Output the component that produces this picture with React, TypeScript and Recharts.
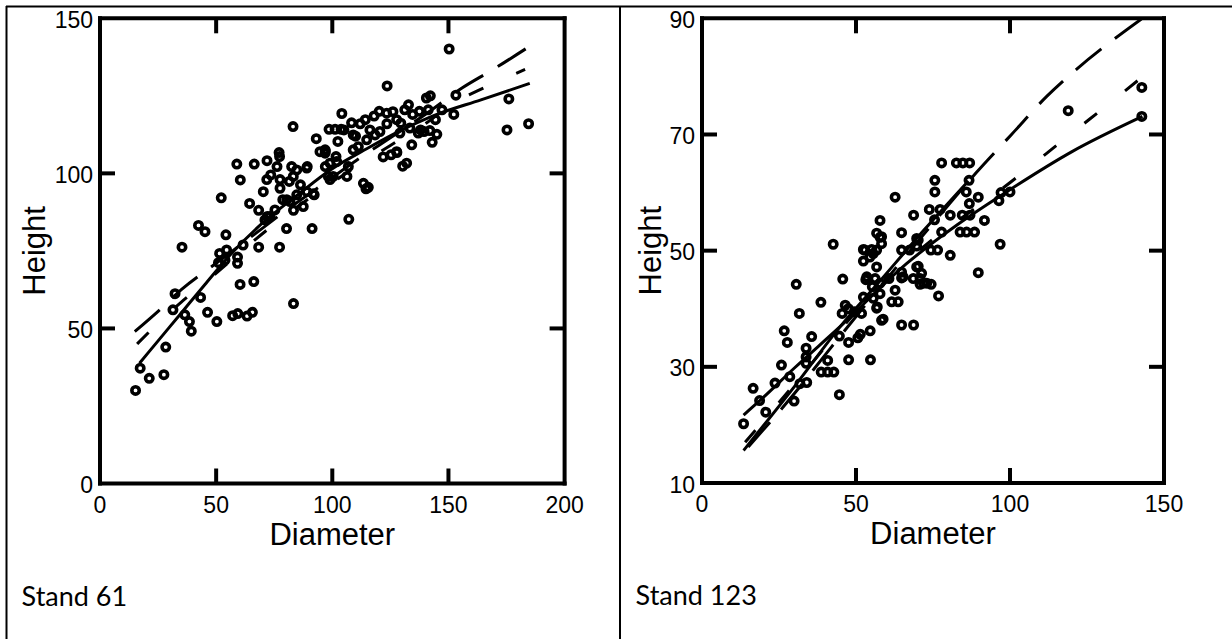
import React from 'react';
import { ComposedChart, Scatter, Line, XAxis, YAxis, Label } from 'recharts';

// Stand 61 – observed trees
const s61D = [
  15.3, 17.3, 21.2, 27.5, 28.3, 31.4, 32.3, 36.5, 38.5, 39.3, 43.3, 46.3, 50.3, 57.1, 59.3, 63.3, 65.6, 83.3, 60.3, 66.2,
  35.3, 42.4, 45.2, 52.2, 54.2, 51.5, 51.0, 54.5, 53.8, 59.2, 59.2, 61.6,
  58.9, 66.4, 60.4, 64.4, 68.3, 70.3, 68.3, 77.3, 80.3, 91.3, 83.3, 71.9, 77.1, 77.3, 76.2, 73.5, 71.8, 77.5, 77.5, 82.5,
  84.7, 89.2, 83.1, 80.4, 81.5, 83.2, 92.2, 86.3, 75.3, 72.0, 78.7, 71.0, 73.2, 81.8, 87.5, 84.7, 89.0,
  93.1, 97.0, 98.6, 101.2, 103.8, 104.1, 105.0, 102.4, 97.0, 99.0, 101.6, 106.3, 107.1, 108.3, 110.0, 114.2, 113.4, 114.5,
  115.5, 120.2, 123.6, 126.1, 121.9, 125.3, 127.8, 130.3, 132.0, 129.5, 131.2, 132.8, 134.6, 134.2, 140.5, 142.2, 141.3,
  144.4, 139.5, 142.0, 145.0, 143.0, 147.2, 150.3, 153.2, 152.3, 176.0, 175.2, 184.5,
  89.0, 94.7, 96.9, 99.0, 101.9, 98.3, 100.4, 106.9, 109.0, 111.2, 114.8, 118.4, 109.0, 127.7, 123.4, 133.4, 129.1, 120.5,
  116.2, 127.7, 137.0, 96.9, 138.0, 137.5, 118.0, 112.0, 123.5, 91.8,
];
const s61H = [
  30.0, 37.2, 33.9, 35.1, 44.0, 56.0, 61.2, 54.4, 52.2, 49.1, 60.0, 55.2, 52.2, 54.1, 54.8, 54.0, 55.2, 58.0, 64.2, 65.1,
  76.2, 83.2, 81.2, 92.1, 80.2, 74.2, 71.2, 75.3, 72.0, 73.0, 71.0, 76.9,
  103.0, 103.0, 97.9, 90.3, 88.1, 94.1, 76.2, 76.2, 82.2, 82.2, 88.1, 104.1, 106.7, 105.4, 102.2, 99.5, 98.0, 98.0, 95.2, 102.2,
  101.1, 102.2, 115.1, 91.5, 97.4, 99.0, 93.1, 96.3, 88.2, 86.1, 91.5, 85.0, 86.1, 90.9, 89.3, 93.1, 94.1,
  111.2, 107.2, 114.2, 114.2, 114.2, 119.3, 114.0, 110.3, 102.2, 98.0, 105.4, 99.0, 85.2, 116.3, 112.0, 117.3, 96.8, 95.0,
  95.5, 120.0, 128.2, 119.9, 105.3, 106.0, 106.7, 102.3, 103.3, 116.2, 120.5, 122.1, 119.0, 109.2, 124.3, 125.0, 120.5,
  117.3, 113.5, 113.8, 112.6, 110.0, 120.5, 140.1, 125.2, 119.0, 124.0, 114.0, 116.0,
  101.7, 107.0, 107.6, 103.3, 103.8, 99.0, 99.0, 102.2, 107.6, 108.6, 110.8, 112.4, 112.4, 117.3, 119.4, 114.6, 113.0, 113.5,
  114.0, 107.0, 113.0, 106.5, 114.0, 120.0, 118.5, 116.0, 116.0, 93.4,
];

// Stand 61 – fitted curves
const s61SolidD = [17, 25, 35, 45, 56, 70, 86, 99, 115, 130, 145, 164, 185];
const s61SolidH = [38.8, 46, 55, 64, 73.7, 84, 93.6, 101, 108, 114, 119, 123.7, 129];
const s61LongD = [15, 25, 35, 50, 65, 80, 95, 110, 125, 140, 156, 169, 185];
const s61LongH = [49, 55.5, 62.5, 71, 79.5, 88, 96, 104, 111.5, 119, 127.6, 133.4, 141];
const s61ShortD = [16, 26, 35, 44, 55, 65, 80, 95, 110, 125, 140, 152, 165, 183];
const s61ShortH = [45, 52.4, 58.5, 64, 71, 77.5, 86.5, 94.5, 102, 109, 116, 122.5, 127.5, 133.5];

// Stand 123 – observed trees
const s123D = [
  13.5, 16.6, 18.7, 20.7, 23.7, 25.8, 26.7, 27.7, 28.5, 29.9, 30.6, 31.6, 33.8, 33.8, 33.8, 34.0, 31.8, 35.6, 38.6, 38.7,
  40.8, 42.8, 40.8, 44.6, 47.6, 54.7, 47.6, 44.6, 50.6, 51.4, 54.6, 58.8, 64.8, 68.7, 45.5, 47.5, 49.5, 51.8, 46.5, 56.9,
  42.6, 45.7, 52.9, 55.6, 52.4, 54.5, 56.7, 53.2, 55.3, 52.4, 55.6, 56.7, 58.3, 53.5, 56.2, 57.8, 57.8, 56.7, 58.3, 56.7,
  58.3, 57.8, 62.7, 64.8, 68.7, 64.8, 67.4, 69.7, 70.2, 74.3, 76.5, 80.6, 64.8, 64.8, 70.2, 71.3, 70.8, 68.6, 70.8, 73.0,
  74.4, 76.8, 61.6, 63.7, 62.7, 60.7, 73.8, 77.3, 75.5, 80.6, 83.8, 85.9, 88.5, 77.8, 77.8, 82.6, 84.7, 86.9, 75.6, 75.6,
  86.7, 85.8, 89.7, 86.8, 84.5, 87.0, 91.7, 89.7, 96.4, 96.8, 97.1, 100.0, 118.9, 142.8, 142.8, 57.8, 69.7, 52.4, 55.1, 69.7,
  71.9, 65.3,
];
const s123H = [
  20.2, 26.3, 24.2, 22.2, 27.2, 30.3, 36.2, 34.2, 28.3, 24.1, 44.2, 39.2, 33.2, 31.7, 30.6, 27.3, 27.1, 35.2, 41.1, 29.1,
  29.1, 29.1, 31.1, 25.2, 31.2, 31.2, 34.2, 35.3, 35.0, 35.6, 36.2, 38.2, 37.2, 37.2, 39.2, 40.0, 39.5, 39.2, 40.6, 40.3,
  51.1, 45.1, 50.1, 49.5, 48.2, 48.9, 47.2, 45.0, 43.8, 42.0, 41.8, 40.1, 38.0, 45.5, 45.2, 44.4, 42.6, 50.1, 51.2, 53.0,
  52.4, 55.2, 59.2, 53.1, 56.1, 50.1, 50.1, 50.8, 51.8, 50.1, 50.1, 49.2, 46.3, 45.3, 47.3, 46.1, 45.2, 45.2, 44.2, 44.4,
  44.2, 42.2, 41.2, 41.2, 43.2, 45.2, 57.1, 57.1, 55.3, 56.1, 53.2, 53.2, 53.2, 53.2, 65.1, 65.1, 65.1, 65.1, 62.1, 60.1,
  62.1, 60.1, 59.2, 58.1, 56.1, 56.1, 55.2, 46.2, 58.6, 51.1, 60.0, 60.1, 74.1, 78.1, 73.1, 52.3, 52.1, 50.2, 50.2, 47.2,
  44.4, 45.5,
];

// Stand 123 – fitted curves
const s123SolidD = [13.5, 19, 30, 45, 66.5, 83, 100, 120, 143];
const s123SolidH = [21.7, 24.3, 29.8, 37, 47.8, 54.5, 60.5, 67, 73.1];
const s123SteepD = [13.5, 30, 45, 57, 72, 86.5];
const s123SteepH = [15.6, 26.6, 37, 44.3, 53.5, 62];
const s123LongD = [15, 30, 42, 57, 72, 89, 100.5, 112, 120, 143];
const s123LongH = [16.2, 25.4, 33.4, 43.2, 52.8, 63.4, 70, 76.6, 80.5, 90];
const s123ShortD = [14, 30, 45, 60, 75, 90, 97, 112, 126, 142];
const s123ShortH = [17, 27, 36.5, 45, 52, 57.8, 60.5, 66.8, 72.7, 79.5];

const FONT = '"Liberation Sans", Arial, sans-serif';
const CAPTION_FONT = 'Lato, "Open Sans", sans-serif';
const LONG_DASH = '33 17';
const SHORT_DASH = '16 36';

const pts = (d: number[], h: number[]) => d.map((x, i) => ({ x, y: h[i] }));

const Ring = (props: any) => (
  <circle cx={props.cx} cy={props.cy} r={3.7} fill="none" stroke="#000" strokeWidth={3.6} />
);

const frame = { stroke: '#000', strokeWidth: 4, strokeLinecap: 'square' as const };

const bottomTick = (inner: number[]) => (p: any) => (
  <g>
    {inner.includes(p.payload.value) && (
      <line x1={p.x} x2={p.x} y1={p.y} y2={p.y - 15} stroke="#000" strokeWidth={4} />
    )}
    <text x={p.x} y={p.y + 29} textAnchor="middle" fontSize={23} fontFamily={FONT} fill="#000">
      {p.payload.value}
    </text>
  </g>
);

const leftTick = (inner: number[]) => (p: any) => (
  <g>
    {inner.includes(p.payload.value) && (
      <line x1={p.x} x2={p.x + 15} y1={p.y} y2={p.y} stroke="#000" strokeWidth={4} />
    )}
    <text x={p.x - 7} y={p.y + 9.5} textAnchor="end" fontSize={23} fontFamily={FONT} fill="#000">
      {p.payload.value}
    </text>
  </g>
);

const topTick = (p: any) => <line x1={p.x} x2={p.x} y1={p.y} y2={p.y + 15} stroke="#000" strokeWidth={4} />;
const rightTick = (p: any) => <line x1={p.x} x2={p.x - 15} y1={p.y} y2={p.y} stroke="#000" strokeWidth={4} />;

interface PanelProps {
  xMax: number;
  yMin: number;
  yMax: number;
  xLabels: number[];
  xInner: number[];
  yLabels: number[];
  yInner: number[];
  leftW: number;
  rightW: number;
  bottomH: number;
  heightOffset: number;
  points: { x: number; y: number }[];
  lines: { data: { x: number; y: number }[]; dash?: string }[];
}

function Panel(p: PanelProps) {
  return (
    <ComposedChart width={616} height={639} margin={{ top: 0, right: 0, bottom: 0, left: 0 }}>
      <XAxis
        xAxisId="b"
        type="number"
        dataKey="x"
        domain={[0, p.xMax]}
        ticks={p.xLabels}
        interval={0}
        allowDataOverflow
        height={p.bottomH}
        axisLine={frame}
        tickLine={false}
        tickSize={0}
        tickMargin={0}
        tick={bottomTick(p.xInner)}
      >
        <Label
          content={(lp: any) => (
            <text
              x={lp.viewBox.x + lp.viewBox.width / 2}
              y={lp.viewBox.y + 61}
              textAnchor="middle"
              fontSize={31}
              fontFamily={FONT}
              fill="#000"
            >
              Diameter
            </text>
          )}
        />
      </XAxis>
      <XAxis
        xAxisId="t"
        orientation="top"
        type="number"
        dataKey="x"
        domain={[0, p.xMax]}
        ticks={p.xInner}
        interval={0}
        allowDataOverflow
        height={18.3}
        axisLine={frame}
        tickLine={false}
        tickSize={0}
        tickMargin={0}
        tick={topTick}
      />
      <YAxis
        yAxisId="l"
        type="number"
        dataKey="y"
        domain={[p.yMin, p.yMax]}
        ticks={p.yLabels}
        interval={0}
        allowDataOverflow
        width={p.leftW}
        axisLine={frame}
        tickLine={false}
        tickSize={0}
        tickMargin={0}
        tick={leftTick(p.yInner)}
      >
        <Label
          content={(lp: any) => {
            const bx = lp.viewBox.x + lp.viewBox.width - p.heightOffset;
            const cy = lp.viewBox.y + lp.viewBox.height / 2;
            return (
              <text
                x={bx}
                y={cy}
                transform={`rotate(-90, ${bx}, ${cy})`}
                textAnchor="middle"
                fontSize={31}
                fontFamily={FONT}
                fill="#000"
              >
                Height
              </text>
            );
          }}
        />
      </YAxis>
      <YAxis
        yAxisId="r"
        orientation="right"
        type="number"
        dataKey="y"
        domain={[p.yMin, p.yMax]}
        ticks={p.yInner}
        interval={0}
        allowDataOverflow
        width={p.rightW}
        axisLine={frame}
        tickLine={false}
        tickSize={0}
        tickMargin={0}
        tick={rightTick}
      />
      <Scatter xAxisId="b" yAxisId="l" data={p.points} dataKey="y" shape={Ring} isAnimationActive={false} />
      {p.lines.map((l, i) => (
        <Line
          key={i}
          xAxisId="b"
          yAxisId="l"
          data={l.data}
          dataKey="y"
          type="monotone"
          stroke="#000"
          strokeWidth={3}
          strokeDasharray={l.dash}
          dot={false}
          activeDot={false}
          isAnimationActive={false}
        />
      ))}
    </ComposedChart>
  );
}

export default function App() {
  return (
    <div style={{ position: 'absolute', left: 0, top: 0, width: 1232, height: 639, background: '#fff' }}>
      <svg width={1232} height={639} style={{ position: 'absolute', left: 0, top: 0 }}>
        <line x1={6} x2={1232} y1={6.5} y2={6.5} stroke="#000" strokeWidth={2} />
        <line x1={6.5} x2={6.5} y1={6} y2={639} stroke="#000" strokeWidth={2} />
        <line x1={620} x2={620} y1={6} y2={639} stroke="#000" strokeWidth={2} />
        <text x={21.6} y={606} fontSize={27} fontFamily={CAPTION_FONT} fill="#000">Stand 61</text>
        <text x={635.6} y={605} fontSize={27} fontFamily={CAPTION_FONT} fill="#000">Stand 123</text>
      </svg>
      <div style={{ position: 'absolute', left: 0, top: 0 }}>
        <Panel
          xMax={200}
          yMin={0}
          yMax={150}
          xLabels={[0, 50, 100, 150, 200]}
          xInner={[50, 100, 150]}
          yLabels={[0, 50, 100, 150]}
          yInner={[50, 100]}
          leftW={100}
          rightW={51.4}
          bottomH={155.5}
          heightOffset={55.4}
          points={pts(s61D, s61H)}
          lines={[
            { data: pts(s61SolidD, s61SolidH) },
            { data: pts(s61LongD, s61LongH), dash: LONG_DASH },
            { data: pts(s61ShortD, s61ShortH), dash: SHORT_DASH },
          ]}
        />
      </div>
      <div style={{ position: 'absolute', left: 616, top: 0 }}>
        <Panel
          xMax={150}
          yMin={10}
          yMax={90}
          xLabels={[0, 50, 100, 150]}
          xInner={[50, 100]}
          yLabels={[10, 30, 50, 70, 90]}
          yInner={[30, 50, 70]}
          leftW={86}
          rightW={68}
          bottomH={156}
          heightOffset={41.4}
          points={pts(s123D, s123H)}
          lines={[
            { data: pts(s123SolidD, s123SolidH) },
            { data: pts(s123SteepD, s123SteepH) },
            { data: pts(s123LongD, s123LongH), dash: LONG_DASH },
            { data: pts(s123ShortD, s123ShortH), dash: SHORT_DASH },
          ]}
        />
      </div>
    </div>
  );
}
